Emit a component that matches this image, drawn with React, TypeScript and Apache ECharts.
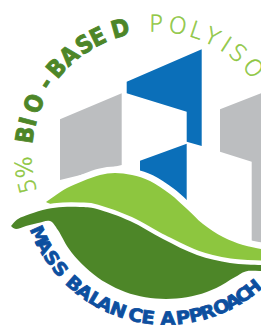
import React, { useEffect, useRef } from 'react';
import * as echarts from 'echarts';

// ---- texts ----
const TEXT_PCT = '5%';
const TEXT_BIO = 'BIO-BASED';
const TEXT_POLY = 'POLYISO';
const TEXT_BOTTOM = 'MASS BALANCE APPROACH';

// ---- letter angles along the arcs (degrees, screen coords) ----
const ANG_PCT = [166.4, 174.6];
const ANG_BIO = [188.8, 194.8, 203, 213.3, 221.4, 229.2, 237.4, 244.2, 254.6];
const ANG_POLY = [270.4, 280, 288.4, 295.8, 302.8, 309.1, 318.5];
const ANG_BOTTOM = [156.4, 151.4, 145.7, 140, 131.5, 126, 120.6, 116.2, 110.2, 102.7, 97.4, 89.2, 82.9, 77.5, 72.5, 66.3, 61.2, 56.2, 51.3];

// ---- shapes ----
const BLUE_UPPER = [[201.7, 49.3], [126.7, 81.7], [126.7, 93.3], [186.7, 111.7], [186.7, 141.7], [201.7, 146]];
const BLUE_LOWER = [[186.7, 143.8], [140, 160.8], [140, 172], [186.7, 212]];
const GRAY_LEFT = [[60, 119.3], [121.7, 93.3], [121.7, 165], [60, 180]];
const GRAY_RIGHT = [[220, 109.3], [261, 93.3], [261, 252], [251.7, 252], [251.7, 161.7], [220, 151.7]];

const LIGHT_TOP = [[46, 202], [56, 195], [67, 188], [83, 181], [100, 175], [115, 173], [132, 175], [150, 181], [170, 194], [187, 209], [203, 224], [223, 237], [243, 245], [261, 249], [272, 252]];
const LIGHT_BOTTOM = [[272, 270], [261, 269], [230, 268], [197, 261], [163, 244], [130, 226], [97, 214], [75, 210], [58, 207], [46, 202]];
const DARK_TOP = [[11, 226], [18, 219], [30, 214], [47, 209], [63, 207], [80, 207], [97, 209], [130, 221], [163, 239], [197, 255], [230, 263], [261, 265], [272, 265]];
const DARK_BOTTOM = [[272, 271], [260, 271], [245.6, 268.4 + 3], [234.3, 277.5], [216.3, 287.9], [196.8, 295], [176.4, 298.5], [155.6, 298.5], [135.2, 295], [115.7, 287.9], [97.7, 277.5], [81.9, 264.1], [68.5, 248.3], [58.1, 230.3], [50, 221], [38, 223], [26, 226], [16, 229], [11, 226]];

const CX_TOP = 155, CY_TOP = 155, R_TOP = 131.5;
const CX_BOT = 166, CY_BOT = 180, R_BOT = 138.5;

const GRAY = '#bcbec0';
const BLUE = '#0b6fb9';
const BLUE_TEXT = '#0d4f9f';
const LIGHT_GREEN = '#8dc63f';
const DARK_GREEN = '#4d8628';

function spline(pts: number[][], move: boolean): string {
  const f = (v: number) => v.toFixed(2);
  let d = (move ? 'M' : 'L') + f(pts[0][0]) + ',' + f(pts[0][1]);
  for (let i = 0; i < pts.length - 1; i++) {
    const p0 = pts[i - 1] || pts[i];
    const p1 = pts[i];
    const p2 = pts[i + 1];
    const p3 = pts[i + 2] || pts[i + 1];
    const c1x = p1[0] + (p2[0] - p0[0]) / 6;
    const c1y = p1[1] + (p2[1] - p0[1]) / 6;
    const c2x = p2[0] - (p3[0] - p1[0]) / 6;
    const c2y = p2[1] - (p3[1] - p1[1]) / 6;
    d += 'C' + f(c1x) + ',' + f(c1y) + ',' + f(c2x) + ',' + f(c2y) + ',' + f(p2[0]) + ',' + f(p2[1]);
  }
  return d;
}

const D_LIGHT = spline(LIGHT_TOP, true) + spline(LIGHT_BOTTOM, false) + 'Z';
const D_DARK = spline(DARK_TOP, true) + spline(DARK_BOTTOM, false) + 'Z';

let registered = false;
function registerShapes() {
  if (registered) return;
  registered = true;
  echarts.graphic.registerShape('leafLight', echarts.graphic.extendPath(D_LIGHT, {}));
  echarts.graphic.registerShape('leafDark', echarts.graphic.extendPath(D_DARK, {}));
}

function arcLetters(text: string, angles: number[], cx: number, cy: number, r: number, outward: boolean, style: any, scaleX: number) {
  const chars = text.replace(/ /g, '').split('');
  return chars.map((ch, i) => {
    const deg = angles[i];
    const a = (deg * Math.PI) / 180;
    const rot = outward ? -(deg + 90) : -(deg - 90);
    return {
      type: 'text',
      x: cx + r * Math.cos(a),
      y: cy + r * Math.sin(a),
      rotation: (rot * Math.PI) / 180,
      scaleX,
      style: { text: ch, align: 'center', verticalAlign: 'middle', ...style },
    };
  });
}

export default function App() {
  const ref = useRef<HTMLDivElement>(null);
  useEffect(() => {
    if (!ref.current) return;
    registerShapes();
    const chart = echarts.init(ref.current, null, { renderer: 'svg' });
    const thin = { fontFamily: '"DejaVu Sans"', fontWeight: 200, fontSize: 23, fill: LIGHT_GREEN, stroke: LIGHT_GREEN, lineWidth: 0.5 };
    const bold = { fontFamily: '"DejaVu Sans"', fontWeight: 'bold', fontSize: 24, fill: DARK_GREEN, stroke: DARK_GREEN, lineWidth: 0.9 };
    const blueBold = { fontFamily: '"DejaVu Sans"', fontWeight: 'bold', fontSize: 18, fill: BLUE_TEXT, stroke: BLUE_TEXT, lineWidth: 0.8 };
    const elements: any[] = [
      { type: 'polygon', shape: { points: GRAY_LEFT }, style: { fill: GRAY } },
      { type: 'polygon', shape: { points: GRAY_RIGHT }, style: { fill: GRAY } },
      { type: 'polygon', shape: { points: BLUE_UPPER }, style: { fill: BLUE } },
      { type: 'polygon', shape: { points: BLUE_LOWER }, style: { fill: BLUE } },
      { type: 'leafLight', style: { fill: '#ffffff', stroke: '#ffffff', lineWidth: 13, lineJoin: 'round' } },
      { type: 'leafLight', style: { fill: LIGHT_GREEN } },
      { type: 'leafDark', style: { fill: '#ffffff', stroke: '#ffffff', lineWidth: 9, lineJoin: 'round' } },
      { type: 'leafDark', style: { fill: DARK_GREEN } },
      ...arcLetters(TEXT_PCT, ANG_PCT, CX_TOP, CY_TOP, R_TOP, true, thin, 1),
      ...arcLetters(TEXT_BIO, ANG_BIO, CX_TOP, CY_TOP, R_TOP, true, bold, 0.9),
      ...arcLetters(TEXT_POLY, ANG_POLY, CX_TOP, CY_TOP, R_TOP, true, thin, 1),
      ...arcLetters(TEXT_BOTTOM, ANG_BOTTOM, CX_BOT, CY_BOT, R_BOT, false, blueBold, 1.08),
    ];
    chart.setOption({
      animation: false,
      backgroundColor: '#ffffff',
      graphic: { elements },
    });
    return () => chart.dispose();
  }, []);
  return <div ref={ref} style={{ position: 'absolute', left: 0, top: 0, width: 261, height: 325 }} />;
}
